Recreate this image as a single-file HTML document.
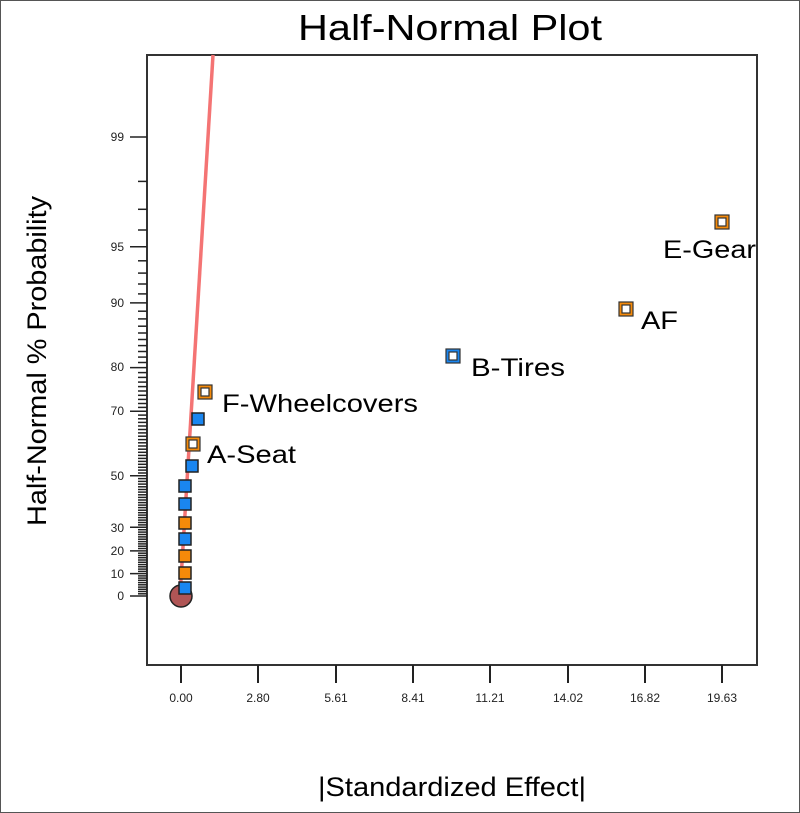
<!DOCTYPE html>
<html><head><meta charset="utf-8"><style>
html,body{margin:0;padding:0;background:#fff;}
svg{display:block;font-family:"Liberation Sans",Arial,sans-serif;}
</style></head><body>
<svg id="s" width="800" height="813" xmlns="http://www.w3.org/2000/svg">
<rect x="0.5" y="0.5" width="799" height="812" fill="#fff" stroke="#555" stroke-width="1"/>
<text x="450" y="40" font-size="36" text-anchor="middle" textLength="304" lengthAdjust="spacingAndGlyphs">Half-Normal Plot</text>
<rect x="147" y="55" width="610" height="610" fill="none" stroke="#333" stroke-width="2"/>
<g id="yt" stroke="#222" stroke-width="1.5"></g>
<g font-size="12" fill="#222" text-anchor="end">
<text x="124" y="141">99</text><text x="124" y="251">95</text><text x="124" y="307">90</text>
<text x="124" y="371">80</text><text x="124" y="415">70</text><text x="124" y="480">50</text>
<text x="124" y="532">30</text><text x="124" y="555">20</text><text x="124" y="578">10</text>
<text x="124" y="600">0</text></g>
<g stroke="#222" stroke-width="2">
<line x1="181" y1="665" x2="181" y2="683"/><line x1="258" y1="665" x2="258" y2="683"/>
<line x1="336" y1="665" x2="336" y2="683"/><line x1="413" y1="665" x2="413" y2="683"/>
<line x1="490" y1="665" x2="490" y2="683"/><line x1="568" y1="665" x2="568" y2="683"/>
<line x1="645" y1="665" x2="645" y2="683"/><line x1="722" y1="665" x2="722" y2="683"/></g>
<g font-size="12" fill="#222" text-anchor="middle">
<text x="181" y="702">0.00</text><text x="258" y="702">2.80</text><text x="336" y="702">5.61</text>
<text x="413" y="702">8.41</text><text x="490" y="702">11.21</text><text x="568" y="702">14.02</text>
<text x="645" y="702">16.82</text><text x="722" y="702">19.63</text></g>
<text x="452" y="796" font-size="27" text-anchor="middle" textLength="268" lengthAdjust="spacingAndGlyphs">|Standardized Effect|</text>
<text transform="translate(46,361) rotate(-90)" font-size="27" text-anchor="middle" textLength="330" lengthAdjust="spacingAndGlyphs">Half-Normal % Probability</text>
<line x1="180" y1="596" x2="213" y2="55" stroke="#f47474" stroke-width="3.5"/>
<circle cx="181" cy="596" r="11" fill="#b05555" stroke="#222" stroke-width="1.5"/>
<g stroke="#222" stroke-width="1.5">
<rect x="179" y="582" width="12" height="12" fill="#1a86f0"/>
<rect x="179" y="567" width="12" height="12" fill="#f58a0a"/>
<rect x="179" y="550" width="12" height="12" fill="#f58a0a"/>
<rect x="179" y="533" width="12" height="12" fill="#1a86f0"/>
<rect x="179" y="517" width="12" height="12" fill="#f58a0a"/>
<rect x="179" y="498" width="12" height="12" fill="#1a86f0"/>
<rect x="179" y="480" width="12" height="12" fill="#1a86f0"/>
<rect x="186" y="460" width="12" height="12" fill="#1a86f0"/>
<rect x="192" y="413" width="12" height="12" fill="#1a86f0"/>
</g>
<g stroke="#333" stroke-width="1.2">
<rect x="186" y="437" width="14" height="14" fill="#f58a0a"/><rect x="189" y="440" width="8" height="8" fill="#fff"/>
<rect x="198" y="385" width="14" height="14" fill="#f58a0a"/><rect x="201" y="388" width="8" height="8" fill="#fff"/>
<rect x="446" y="349" width="14" height="14" fill="#1a86f0"/><rect x="449" y="352" width="8" height="8" fill="#fff"/>
<rect x="619" y="302" width="14" height="14" fill="#f58a0a"/><rect x="622" y="305" width="8" height="8" fill="#fff"/>
<rect x="715" y="215" width="14" height="14" fill="#f58a0a"/><rect x="718" y="218" width="8" height="8" fill="#fff"/>
</g>
<g font-size="25" fill="#000" lengthAdjust="spacingAndGlyphs">
<text x="222" y="412" textLength="196" lengthAdjust="spacingAndGlyphs">F-Wheelcovers</text>
<text x="207" y="463" textLength="89" lengthAdjust="spacingAndGlyphs">A-Seat</text>
<text x="471" y="376" textLength="94" lengthAdjust="spacingAndGlyphs">B-Tires</text>
<text x="641" y="329" textLength="37" lengthAdjust="spacingAndGlyphs">AF</text>
<text x="663" y="258" textLength="93" lengthAdjust="spacingAndGlyphs">E-Gear</text>
</g>
</svg>
<script>
(function(){
function inv(p){
var a=[-39.69683028665376,220.9460984245205,-275.9285104469687,138.3577518672690,-30.66479806614716,2.506628277459239],
b=[-54.47609879822406,161.5858589185799,-155.6989798598866,66.80131188771972,-13.28068155288572],
c=[-0.007784894002430293,-0.3223964580411365,-2.400758277161838,-2.549732539343734,4.374664141464968,2.938163982698783],
d=[0.007784695709041462,0.3224671290700398,2.445134137142996,3.754408661907416];
var q,r;
if(p<0.02425){q=Math.sqrt(-2*Math.log(p));return (((((c[0]*q+c[1])*q+c[2])*q+c[3])*q+c[4])*q+c[5])/((((d[0]*q+d[1])*q+d[2])*q+d[3])*q+1);}
if(p>1-0.02425){q=Math.sqrt(-2*Math.log(1-p));return -(((((c[0]*q+c[1])*q+c[2])*q+c[3])*q+c[4])*q+c[5])/((((d[0]*q+d[1])*q+d[2])*q+d[3])*q+1);}
q=p-0.5;r=q*q;return (((((a[0]*r+a[1])*r+a[2])*r+a[3])*r+a[4])*r+a[5])*q/(((((b[0]*r+b[1])*r+b[2])*r+b[3])*r+b[4])*r+1);
}
var g=document.getElementById('yt'),s='';
var major=[0,10,20,30,50,70,80,90,95,99];
for(var p=0;p<=99;p++){
 var z=p==0?0:inv(0.5+p/200);var y=596-z*178.2;
 var x1=major.indexOf(p)>=0?130:138;
 s+='<line x1="'+x1+'" y1="'+y.toFixed(1)+'" x2="147" y2="'+y.toFixed(1)+'"/>';
}
g.innerHTML=s;
})();
</script>
</body></html>
